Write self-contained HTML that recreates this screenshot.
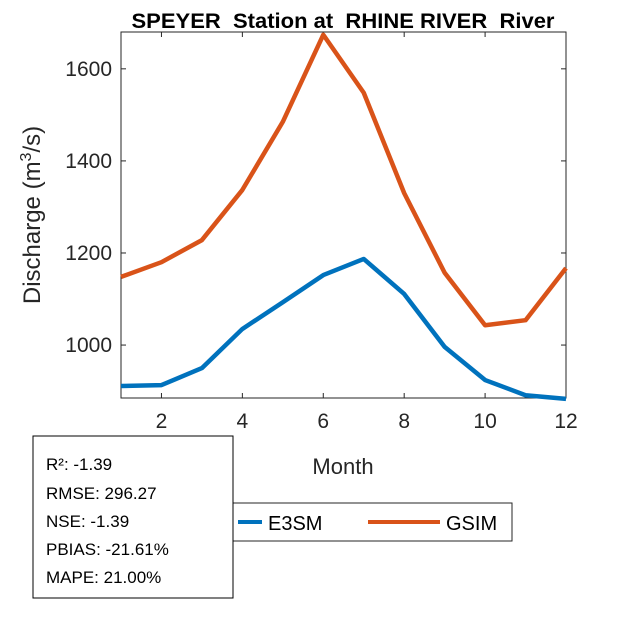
<!DOCTYPE html>
<html><head><meta charset="utf-8"><style>
body{margin:0;background:#fff;width:625px;height:625px;overflow:hidden;font-family:"Liberation Sans",Arial,sans-serif}
</style></head><body>
<svg width="625" height="625" xmlns="http://www.w3.org/2000/svg">
<rect width="625" height="625" fill="#fff"/>
<text x="343" y="28" text-anchor="middle" font-size="21" font-weight="bold" textLength="423" lengthAdjust="spacingAndGlyphs" style="white-space:pre" xml:space="preserve">SPEYER  Station at  RHINE RIVER  River</text>
<g id="plot"></g>
<text x="343" y="474" text-anchor="middle" font-size="22" fill="#262626">Month</text>
<text transform="translate(40,215) rotate(-90)" text-anchor="middle" font-size="24" fill="#262626">Discharge (m<tspan dy="-9" font-size="16">3</tspan><tspan dy="9">/s)</tspan></text>
<g>
<rect x="232" y="503" width="280" height="38" fill="#fff" stroke="#262626" stroke-width="1"/>
<line x1="238" y1="522" x2="262" y2="522" stroke="#0072BD" stroke-width="4"/>
<text x="268" y="530" font-size="20" fill="#000">E3SM</text>
<line x1="368" y1="522" x2="440" y2="522" stroke="#D95319" stroke-width="4"/>
<text x="446" y="530" font-size="20" fill="#000">GSIM</text>
</g>
<g>
<rect x="33" y="436" width="200" height="162" fill="#fff" stroke="#000" stroke-width="1"/>
<text x="46" y="470" font-size="17">R²: -1.39</text>
<text x="46" y="499" font-size="17">RMSE: 296.27</text>
<text x="46" y="527" font-size="17">NSE: -1.39</text>
<text x="46" y="555" font-size="17">PBIAS: -21.61%</text>
<text x="46" y="583" font-size="17">MAPE: 21.00%</text>
</g>
</svg>
<script>
const months=[1,2,3,4,5,6,7,8,9,10,11,12];
const e3sm=[911,913,950,1035,1093,1152,1187,1111,996,924,891,883];
const gsim=[1148,1180,1228,1337,1485,1674,1548,1330,1157,1043,1054,1167];
const xTicks=[2,4,6,8,10,12];
const yTicks=[1000,1200,1400,1600];
const L=121,R=566,T=32,B=398,xMin=1,xMax=12,yMin=885,yMax=1680;
const sx=v=>L+(v-xMin)/(xMax-xMin)*(R-L);
const sy=v=>B-(v-yMin)/(yMax-yMin)*(B-T);
const NS="http://www.w3.org/2000/svg";
const g=document.getElementById('plot');
function mk(t,a){const e=document.createElementNS(NS,t);for(const k in a)e.setAttribute(k,a[k]);g.appendChild(e);return e;}
const box=mk('rect',{x:L,y:T,width:R-L,height:B-T,fill:'#fff',stroke:'#262626','stroke-width':1});


xTicks.forEach(v=>{
 mk('line',{x1:sx(v),x2:sx(v),y1:B,y2:B-5,stroke:'#262626'});
 mk('line',{x1:sx(v),x2:sx(v),y1:T,y2:T+5,stroke:'#262626'});
 const t=mk('text',{x:sx(v),y:B+30,'text-anchor':'middle','font-size':21,fill:'#262626'});t.textContent=v;
 
 
});
yTicks.forEach(v=>{
 mk('line',{x1:L,x2:L+5,y1:sy(v),y2:sy(v),stroke:'#262626'});
 mk('line',{x1:R,x2:R-5,y1:sy(v),y2:sy(v),stroke:'#262626'});
 const t=mk('text',{x:L-9,y:sy(v)+7,'text-anchor':'end','font-size':21,fill:'#262626'});t.textContent=v;
 
 
});
function line(d,c,n){
 const p=mk('polyline',{points:months.map((m,i)=>sx(m)+','+sy(d[i])).join(' '),fill:'none',stroke:c,'stroke-width':4.5,'stroke-linejoin':'round'});
 
 
}
line(e3sm,'#0072BD','e3sm-line');
line(gsim,'#D95319','gsim-line');
</script>
</body></html>
